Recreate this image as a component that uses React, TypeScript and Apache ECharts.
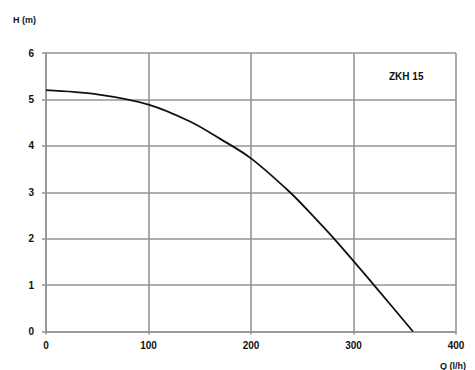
import React, { useEffect, useRef } from "react";
import * as echarts from "echarts";

const flowQ = [0, 50, 100, 140, 170, 200, 238, 260, 281, 320, 358];
const headH = [5.2, 5.11, 4.89, 4.53, 4.15, 3.73, 3.0, 2.5, 2.0, 1.0, 0];
const xTicks = [0, 100, 200, 300, 400];
const yTicks = [0, 1, 2, 3, 4, 5, 6];
const modelName = "ZKH 15";
const yName = "H (m)";
const xName = "Q (l/h)";

export default function App() {
  const ref = useRef<HTMLDivElement>(null);
  useEffect(() => {
    if (!ref.current) return;
    const chart = echarts.init(ref.current, null, { renderer: "svg" });
    const font = "Liberation Sans, Arial, sans-serif";
    const labelStyle = { color: "#111", fontSize: 10, fontWeight: "bold" as const, fontFamily: font };
    const gridLine = { lineStyle: { color: "#959595", width: 1.6 } };
    chart.setOption({
      animation: false,
      backgroundColor: "#fff",
      grid: { left: 46, right: 19, top: 53, bottom: 38.5, containLabel: false },
      xAxis: {
        type: "value",
        min: xTicks[0],
        max: xTicks[xTicks.length - 1],
        interval: 100,
        axisLine: { show: true, lineStyle: { color: "#959595", width: 1.6 } },
        axisTick: { show: true, length: 3, lineStyle: { color: "#959595", width: 1.6 } },
        axisLabel: { ...labelStyle, margin: 9 },
        splitLine: { show: true, ...gridLine },
      },
      yAxis: {
        type: "value",
        min: yTicks[0],
        max: yTicks[yTicks.length - 1],
        interval: 1,
        axisLine: { show: true, lineStyle: { color: "#959595", width: 1.6 } },
        axisTick: { show: true, length: 4, lineStyle: { color: "#959595", width: 1.6 } },
        axisLabel: { ...labelStyle, margin: 12 },
        splitLine: { show: true, ...gridLine },
      },
      series: [
        {
          type: "line",
          data: flowQ.map((q, i) => [q, headH[i]]),
          smooth: 0.35,
          showSymbol: false,
          lineStyle: { color: "#111", width: 1.8 },
        },
      ],
      graphic: [
        { type: "text", left: 13, top: 15, style: { text: yName, fill: "#111", font: `bold 9px ${font}` } },
        { type: "text", left: 389, top: 71, style: { text: modelName, fill: "#111", font: `bold 10px ${font}` } },
        { type: "text", left: 440, top: 361, style: { text: xName, fill: "#111", font: `bold 9px ${font}` } },
      ],
    });
    return () => chart.dispose();
  }, []);
  return <div ref={ref} style={{ width: 475, height: 370, position: "absolute", left: 0, top: 0 }} />;
}
